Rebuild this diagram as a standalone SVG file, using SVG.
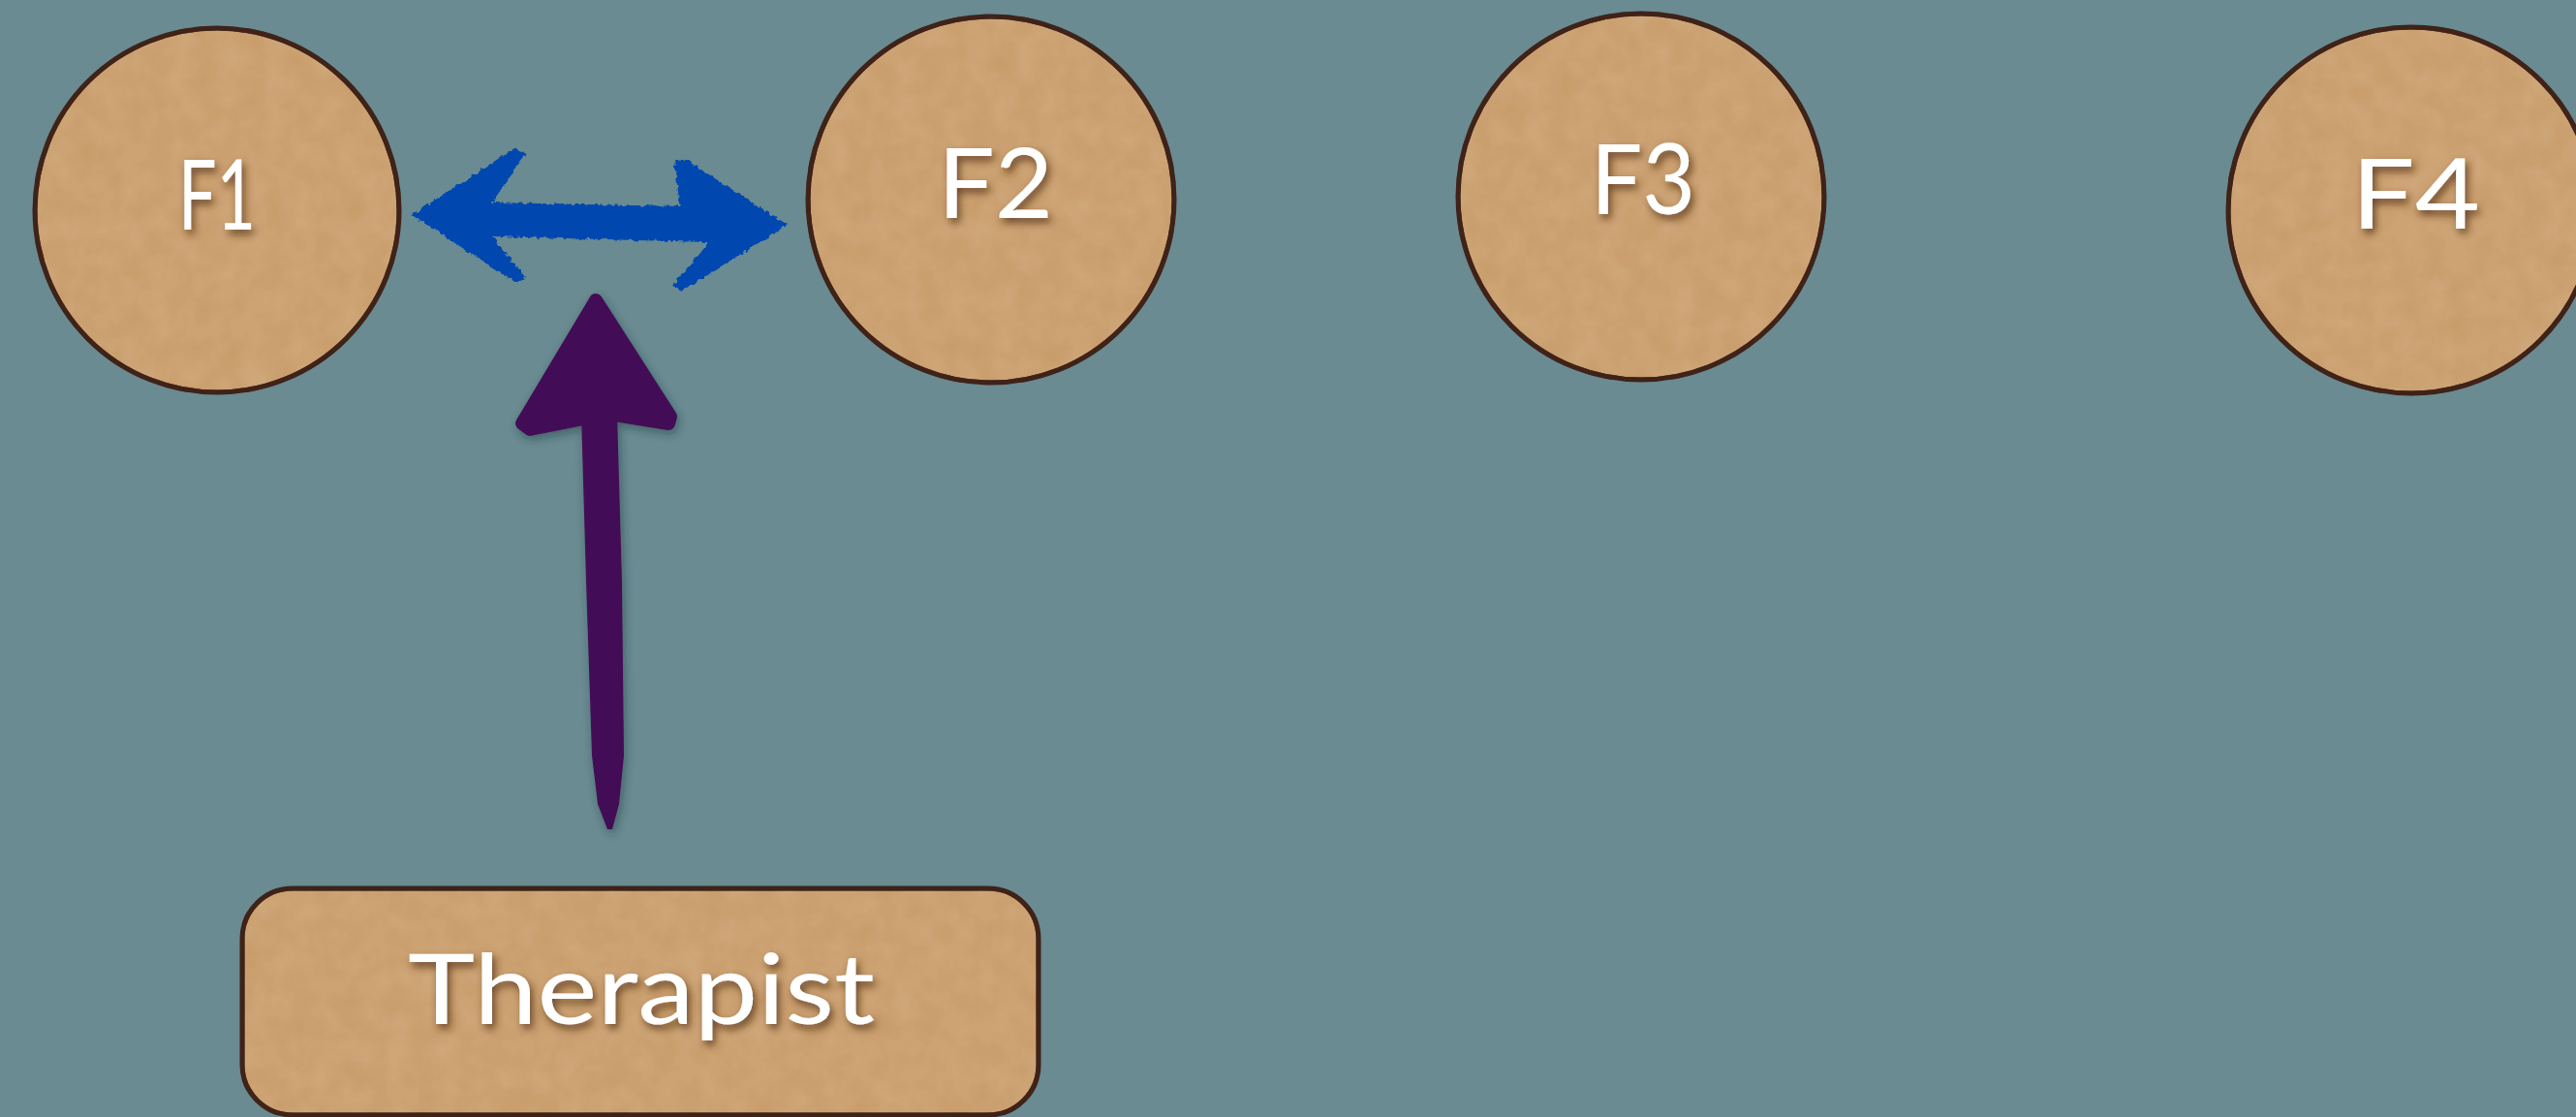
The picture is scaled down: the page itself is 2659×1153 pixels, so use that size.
<svg xmlns="http://www.w3.org/2000/svg" width="2659" height="1153" viewBox="0 0 2659 1153">
  <style>
    .card { fill: #C99D6B; stroke: #3F2218; stroke-width: 5; }
    .grain { filter: url(#paper); }
    .label { font-family: "Lato", "Liberation Sans", sans-serif; font-size: 100px; fill: #FFFFFF; filter: url(#textShadow); }
  </style>
  <defs>
    <!-- soft shadow under the white lettering -->
    <filter id="textShadow" x="-20%" y="-30%" width="140%" height="170%">
      <feDropShadow dx="3" dy="5" stdDeviation="4" flood-color="#4A2C10" flood-opacity="0.75"/>
    </filter>
    <!-- mottled cardboard texture -->
    <filter id="paper" x="0" y="0" width="100%" height="100%">
      <feTurbulence type="fractalNoise" baseFrequency="0.04" numOctaves="3" seed="4" result="noise"/>
      <feColorMatrix in="noise" type="matrix" values="0 0 0 0 0.84  0 0 0 0 0.66  0 0 0 0 0.45  0 0 0 0.22 -0.04" result="tint"/>
      <feComposite in="tint" in2="SourceGraphic" operator="atop"/>
    </filter>
    <!-- rough chalky edge for the blue double arrow -->
    <filter id="rough" x="-10%" y="-30%" width="120%" height="160%">
      <feTurbulence type="fractalNoise" baseFrequency="0.2" numOctaves="2" seed="7" result="n"/>
      <feDisplacementMap in="SourceGraphic" in2="n" scale="6" xChannelSelector="R" yChannelSelector="G"/>
    </filter>
    <!-- shadow under the purple brush arrow -->
    <filter id="arrowShadow" x="-40%" y="-10%" width="180%" height="120%">
      <feDropShadow dx="2" dy="4" stdDeviation="5" flood-color="#1C2A30" flood-opacity="0.45"/>
    </filter>
  </defs>

  <rect width="2659" height="1153" fill="#698B91"/>

  <g id="connectors">
    <!-- F1 <-> F2 -->
    <path id="f1-f2" filter="url(#rough)" fill="#0047B0"
          d="M425,222 L531,153 L543,158 L508,209 L702,213 L696,166 L708,165 L813,232 L704,300 L694,295 L732,250 L508,244 L543,287 L533,292 Z"/>
    <!-- Therapist -> link -->
    <g id="therapist-link" filter="url(#arrowShadow)">
      <path fill="#430F57" stroke="#430F57" stroke-width="14" stroke-linejoin="round"
            d="M615,310 L539,437 L547,443 L603,432 L634,428 L690,437 L692,430 Z"/>
      <path fill="#430F57"
            d="M600,428 L637,426 L642,600 L644,780 L639,830 L632,856 L627,856 L617,830 L611,780 L605,600 Z"/>
    </g>
  </g>

  <g id="F1">
    <circle class="card grain" cx="224" cy="217" r="188"/>
    <circle cx="224" cy="217" r="188" fill="none" stroke="#3F2218" stroke-width="5"/>
    <text class="label" x="184" y="237" textLength="80" lengthAdjust="spacingAndGlyphs">F1</text>
  </g>

  <g id="F2">
    <circle class="card grain" cx="1023" cy="206" r="189"/>
    <circle cx="1023" cy="206" r="189" fill="none" stroke="#3F2218" stroke-width="5"/>
    <text class="label" x="968" y="225" textLength="119" lengthAdjust="spacingAndGlyphs">F2</text>
  </g>

  <g id="F3">
    <circle class="card grain" cx="1694" cy="203" r="189"/>
    <circle cx="1694" cy="203" r="189" fill="none" stroke="#3F2218" stroke-width="5"/>
    <text class="label" x="1642" y="221" textLength="108" lengthAdjust="spacingAndGlyphs">F3</text>
  </g>

  <g id="F4">
    <circle class="card grain" cx="2489" cy="217" r="189"/>
    <circle cx="2489" cy="217" r="189" fill="none" stroke="#3F2218" stroke-width="5"/>
    <text class="label" x="2427" y="236" textLength="133" lengthAdjust="spacingAndGlyphs">F4</text>
  </g>

  <g id="Therapist">
    <rect class="card grain" x="250" y="917" width="822" height="234" rx="52" ry="52"/>
    <rect x="250" y="917" width="822" height="234" rx="52" ry="52" fill="none" stroke="#3F2218" stroke-width="5"/>
    <text class="label" x="421" y="1057" textLength="482" lengthAdjust="spacingAndGlyphs">Therapist</text>
  </g>
</svg>
